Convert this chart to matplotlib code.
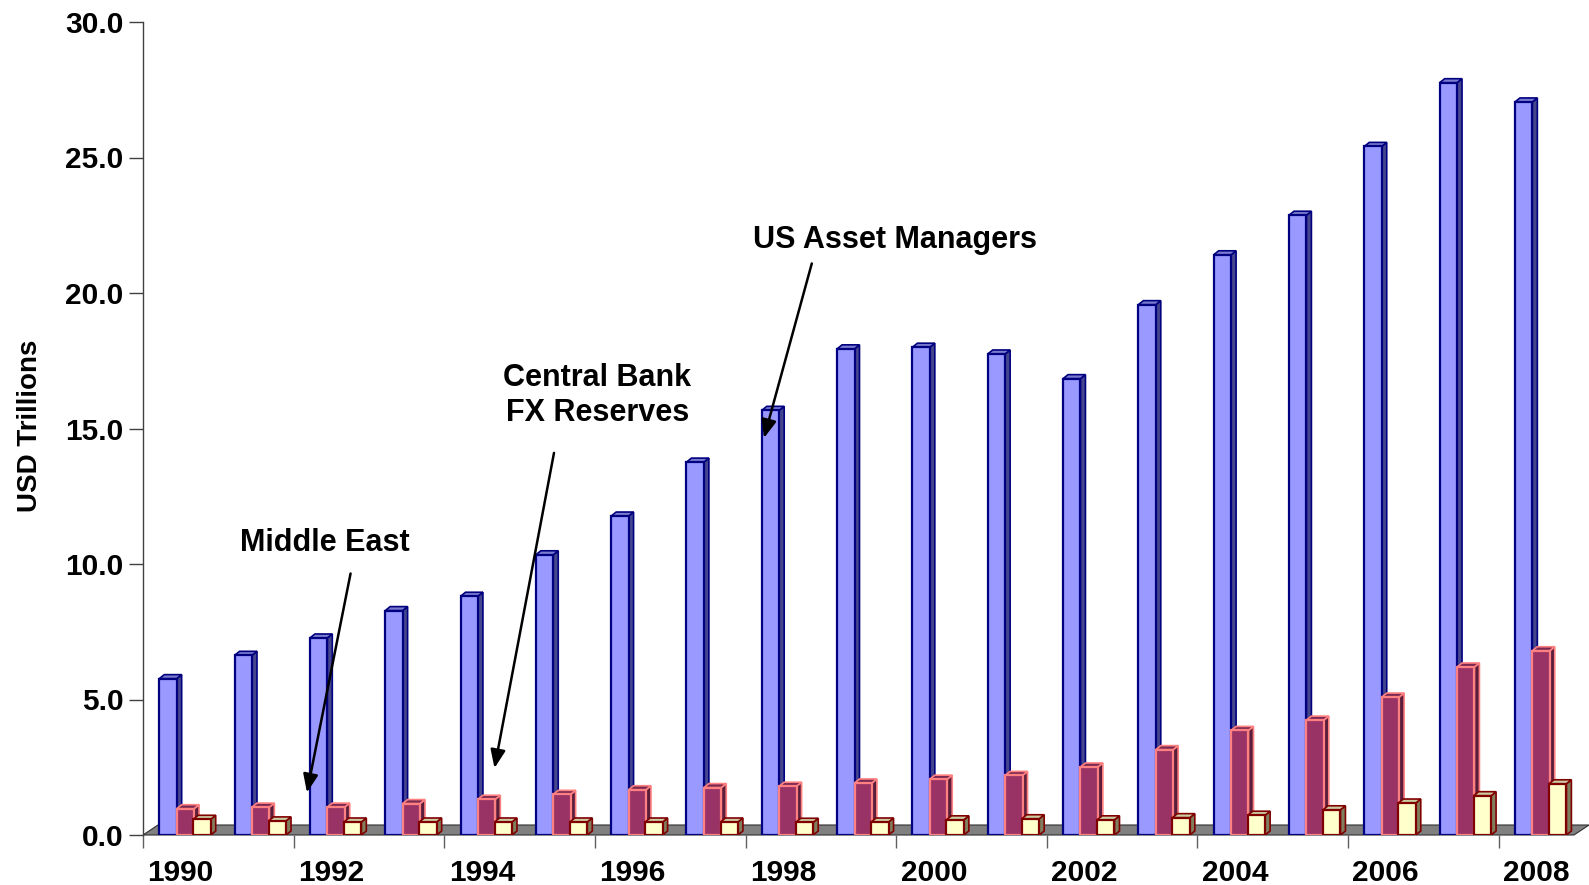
import numpy as np
import matplotlib
matplotlib.use("Agg")
import matplotlib.pyplot as plt
from matplotlib.patches import Polygon

plt.rcParams['font.family'] = ['Liberation Sans', 'DejaVu Sans']
plt.rcParams['font.weight'] = 'bold'

# values, USD trillions
years = [str(y) for y in range(1990, 2009)]
us_asset_managers = [5.77, 6.63, 7.27, 8.28, 8.81, 10.34, 11.77, 13.76, 15.67, 17.94,
                     18.00, 17.75, 16.84, 19.57, 21.41, 22.87, 25.41, 27.76, 27.05]
central_bank_fx = [0.97, 1.03, 1.03, 1.16, 1.32, 1.50, 1.67, 1.75, 1.80, 1.92,
                   2.06, 2.20, 2.51, 3.15, 3.86, 4.24, 5.09, 6.20, 6.80]
middle_east = [0.58, 0.52, 0.48, 0.48, 0.48, 0.48, 0.48, 0.48, 0.47, 0.48,
               0.56, 0.60, 0.56, 0.64, 0.73, 0.93, 1.18, 1.45, 1.89]

W, H = 1589, 885
fig = plt.figure(figsize=(W / 100, H / 100), dpi=100)
ax_l, ax_r, ax_b, ax_t = 143, 1574, 835, 22
ax = fig.add_axes([ax_l / W, 1 - ax_b / H, (ax_r - ax_l) / W, (ax_b - ax_t) / H])
n = len(years)
ax.set_xlim(0, n)
ax.set_ylim(0, 30)

# pixel -> data helpers for the fake 3D depth
px_x = n / (ax_r - ax_l)
px_y = 30 / (ax_b - ax_t)
bar_dx, bar_dy = 5 * px_x, 4 * px_y
floor_dx, floor_dy = 15 * px_x, 10 * px_y

floor = Polygon([(0, 0), (n, 0), (n + floor_dx, floor_dy), (floor_dx, floor_dy)],
                closed=True, facecolor='#808080', edgecolor='#303030', lw=0.8,
                clip_on=False, zorder=1)
ax.add_patch(floor)


def bars_3d(values, offset, front, side, top, edge, z):
    x = np.arange(n) + offset
    width = 0.231
    ax.bar(x, values, width=width, align='edge', color=front, edgecolor=edge,
           linewidth=1.6, zorder=z + 0.2)
    for xi, v in zip(x, values):
        r = xi + width
        ax.add_patch(Polygon([(r, 0), (r + bar_dx, bar_dy), (r + bar_dx, v + bar_dy), (r, v)],
                             closed=True, facecolor=side, edgecolor=edge, lw=1.2, zorder=z))
        ax.add_patch(Polygon([(xi, v), (r, v), (r + bar_dx, v + bar_dy), (xi + bar_dx, v + bar_dy)],
                             closed=True, facecolor=top, edgecolor=edge, lw=1.2, zorder=z))


bars_3d(us_asset_managers, 0.216, '#9999FF', '#46468C', '#7B7BCF', '#000080', 2)
bars_3d(central_bank_fx, 0.447, '#993366', '#5A1E3C', '#7A2A52', '#FF8080', 3)
bars_3d(middle_east, 0.668, '#FFFFCC', '#7F7F5F', '#CCCCA3', '#800000', 4)

# axes styling
for s in ['top', 'right', 'bottom']:
    ax.spines[s].set_visible(False)
ax.spines['left'].set_color('#404040')
ax.spines['left'].set_linewidth(1.0)

yt = np.arange(0, 31, 5)
ax.set_yticks(yt)
ax.set_yticklabels([f"{v:.1f}" for v in yt])
ax.tick_params(axis='y', length=10, width=1, color='#404040', pad=4, labelsize=21.5)

ax.set_xticks(np.arange(0, n, 2))
ax.set_xticklabels([])
ax.set_xticks(np.arange(0, n, 2) + 0.5, minor=True)
ax.set_xticklabels(years[::2], minor=True)
ax.tick_params(axis='x', which='major', length=9.5, width=1, color='#606060')
ax.tick_params(axis='x', which='minor', length=0, pad=17, labelsize=21.5)

fig.text(30 / W, 1 - 426 / H, 'USD Trillions', rotation=90, ha='center', va='center',
         fontsize=20, fontweight='bold')

# annotations
arrow = dict(arrowstyle='-|>,head_length=1.1,head_width=0.45', color='black',
             lw=1.8, shrinkA=0, shrinkB=0, mutation_scale=10)
ax.text(9.98, 21.96, 'US Asset Managers', ha='center', va='center', fontsize=22, zorder=10)
ax.annotate('', xy=(8.245, 14.65), xytext=(8.88, 21.09), arrowprops=arrow, zorder=10)

ax.text(6.03, 16.22, 'Central Bank\nFX Reserves', ha='center', va='center',
        multialignment='center', fontsize=22, linespacing=1.25, zorder=10)
ax.annotate('', xy=(4.667, 2.47), xytext=(5.457, 14.10), arrowprops=arrow, zorder=10)

ax.text(2.416, 10.77, 'Middle East', ha='center', va='center', fontsize=22, zorder=10)
ax.annotate('', xy=(2.177, 1.57), xytext=(2.756, 9.65), arrowprops=arrow, zorder=10)

fig.savefig('out.png', dpi=100)
